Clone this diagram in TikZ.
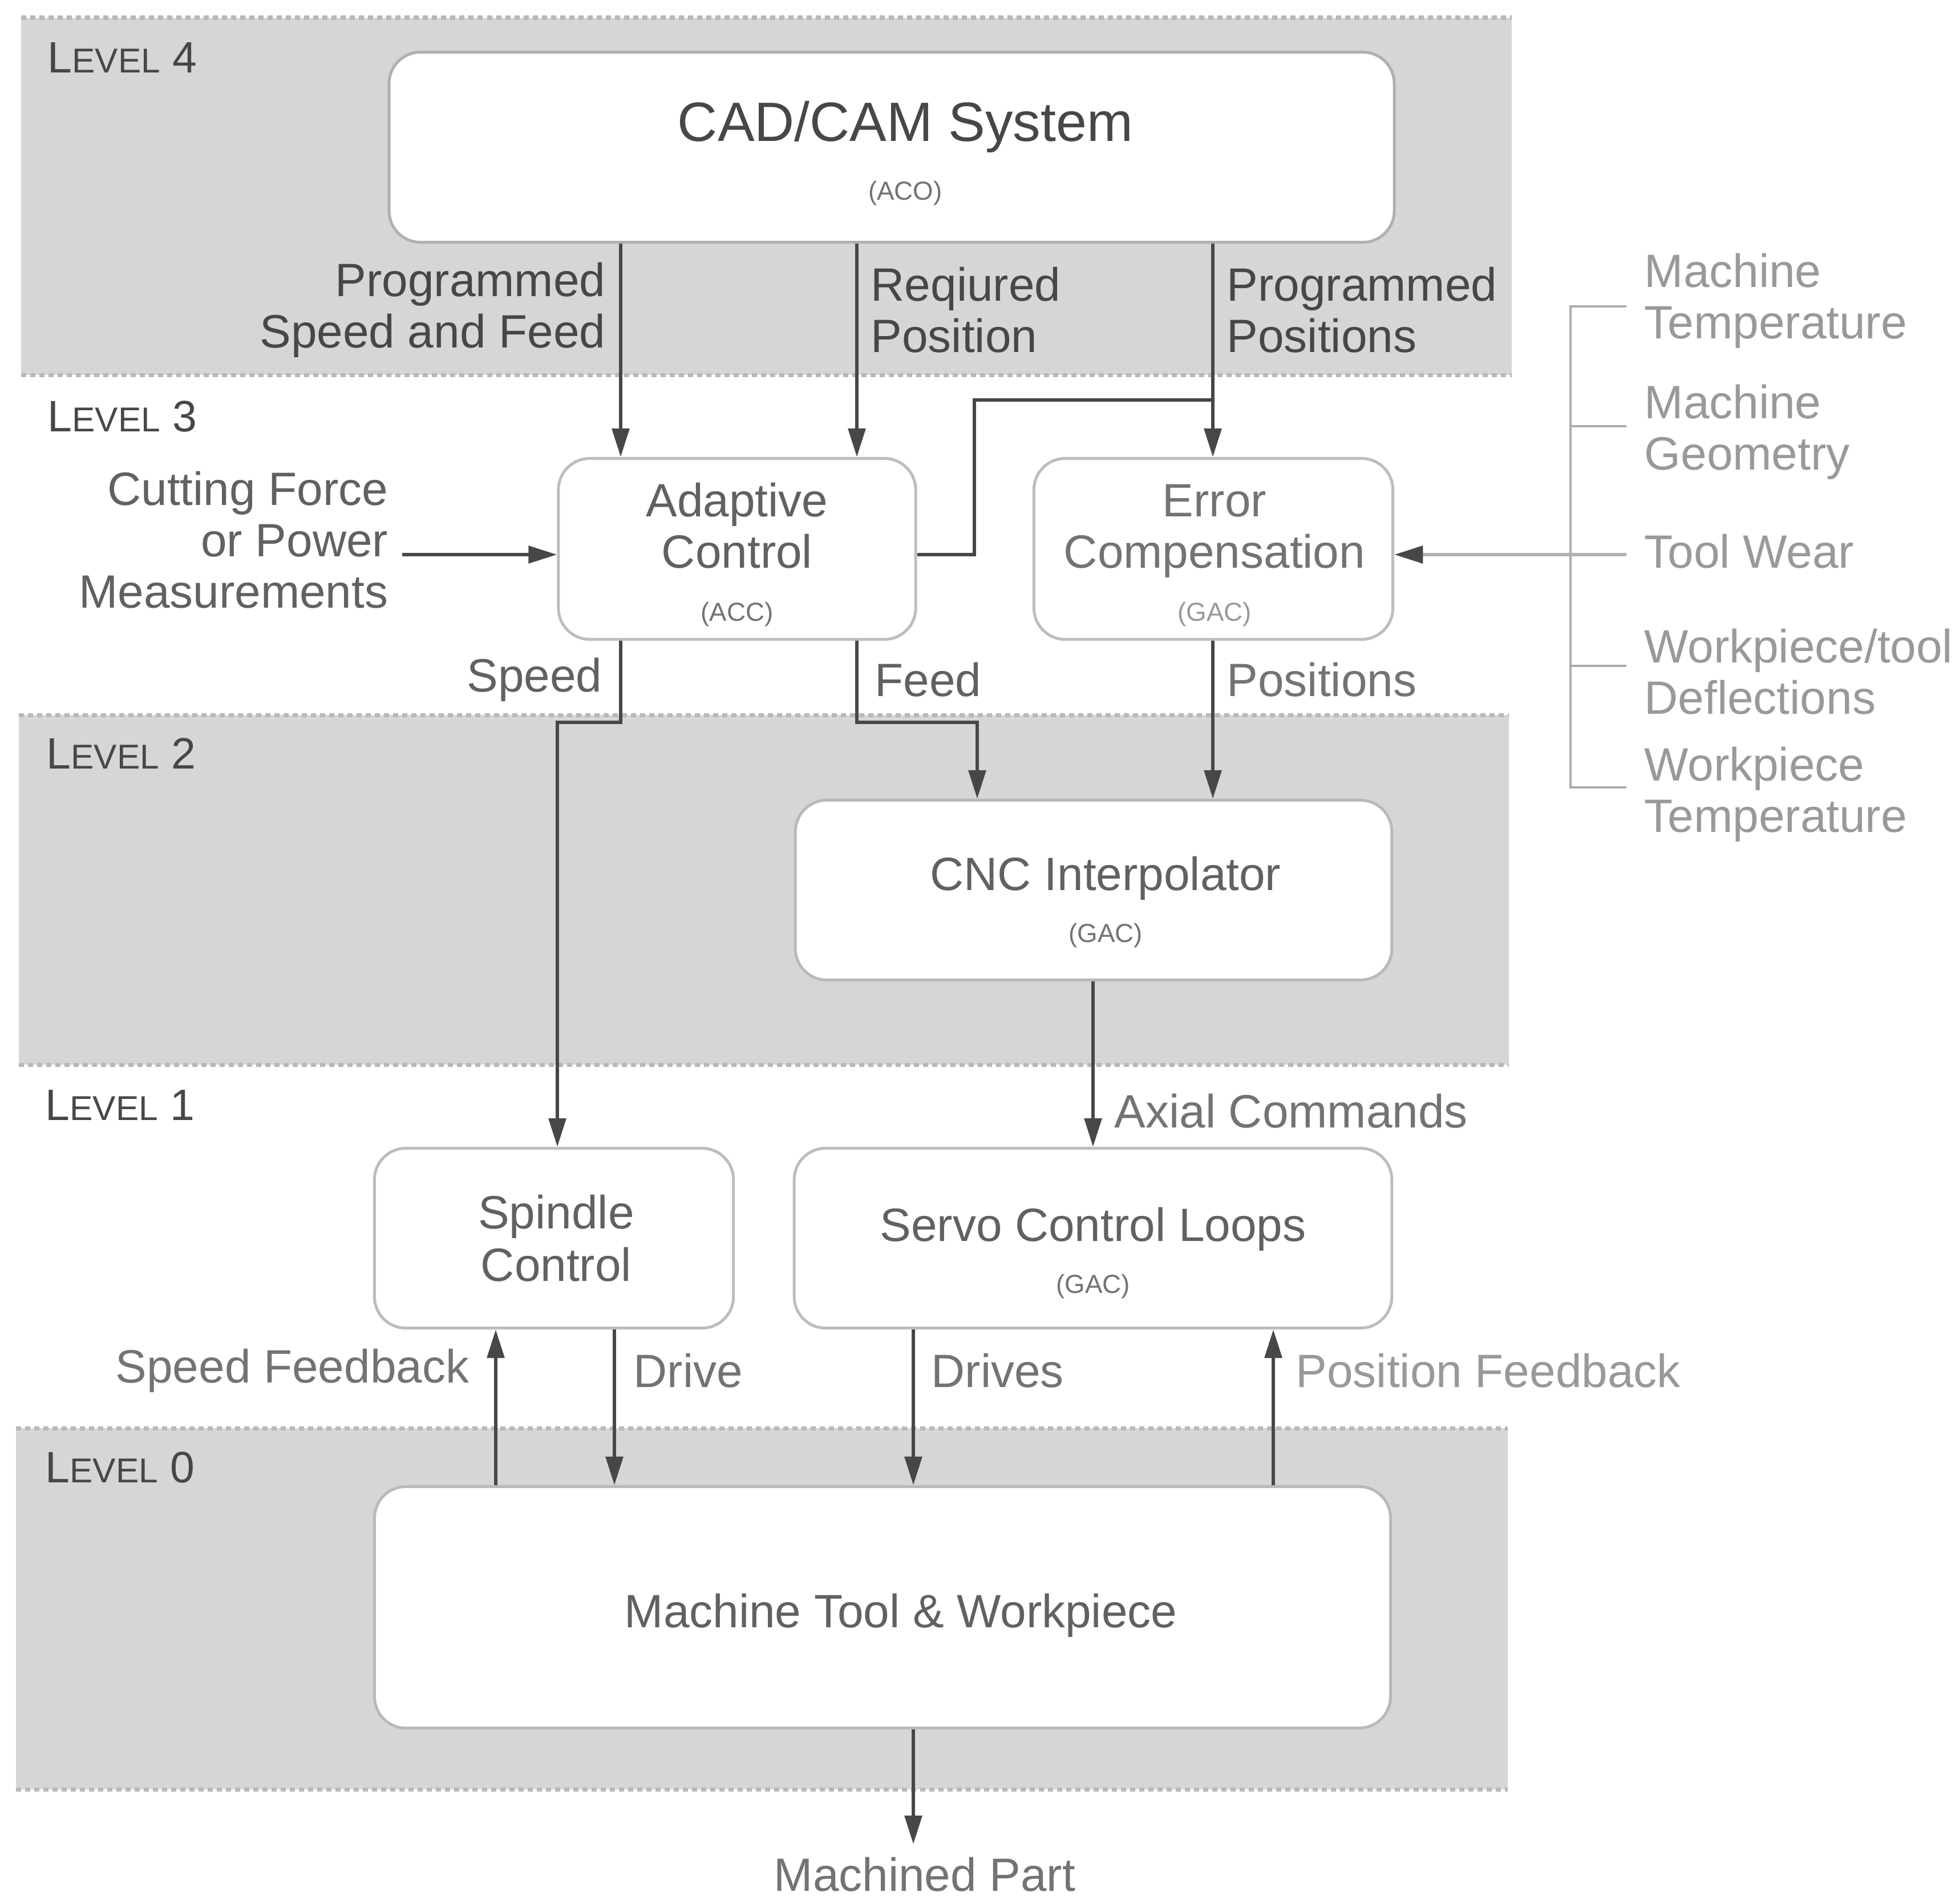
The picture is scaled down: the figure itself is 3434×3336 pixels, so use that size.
\documentclass[tikz,border=0pt]{standalone}
\usepackage{fontspec}
\setmainfont{Liberation Sans}
\usetikzlibrary{arrows.meta}

\definecolor{band}{gray}{0.84}
\definecolor{bandedge}{gray}{0.72}
\definecolor{ink}{gray}{0.28}
\definecolor{txt}{gray}{0.28}
\definecolor{txtsoft}{gray}{0.38}
\definecolor{txtlight}{gray}{0.45}
\definecolor{txtpale}{gray}{0.60}
\definecolor{boxline}{gray}{0.74}

% "LEVEL n" in small caps
\newcommand\lvlname[1]{L{\fontsize{17.2}{20}\selectfont EVEL} #1}
\newcommand\tagfont{\fontsize{13}{15}\selectfont}

\begin{document}
\begin{tikzpicture}[x=0.01cm,y=-0.01cm,
  font=\fontsize{23.3}{25.6}\selectfont,
  bandfill/.style={fill=band},
  bandrim/.style={draw=bandedge, line width=0.07cm, dash pattern=on 0.09cm off 0.07cm},
  blk/.style={draw=boxline, line width=0.05cm, fill=white, rounded corners=0.55cm, inner sep=0pt},
  lbl/.style={inner sep=0pt, text=txt},
  lvl/.style={inner sep=0pt, text=txt, anchor=base west, font=\fontsize{21.9}{25}\selectfont},
  pale/.style={inner sep=0pt, text=txtpale, anchor=west, align=left},
  ln/.style={draw=ink, line width=0.06cm},
  arr/.style={draw=ink, line width=0.06cm, -{Triangle[length=0.5cm,width=0.3cm]}},
  brk/.style={draw=gray!65, line width=0.045cm}
]
\fill[white] (0,0) rectangle (3434,3336);
\useasboundingbox (0,0) rectangle (3434,3336);

% ---- level bands ----
\fill[bandfill] (37,31) rectangle (2650,657);
\draw[bandrim] (37,31) -- (2650,31) (37,657) -- (2650,657);
\fill[bandfill] (33,1253) rectangle (2645,1866);
\draw[bandrim] (33,1253) -- (2645,1253) (33,1866) -- (2645,1866);
\fill[bandfill] (28,2503) rectangle (2643,3136);
\draw[bandrim] (28,2503) -- (2643,2503) (28,3136) -- (2643,3136);

% ---- level names ----
\node[lvl] (lv4) at (83,127)  {\lvlname{4}};
\node[lvl] (lv3) at (83,756)  {\lvlname{3}};
\node[lvl] (lv2) at (81,1347) {\lvlname{2}};
\node[lvl] (lv1) at (79,1963) {\lvlname{1}};
\node[lvl] (lv0) at (79,2598) {\lvlname{0}};

% ---- blocks ----
\node[blk, draw=gray!62, minimum width=17.61cm, minimum height=3.33cm] (cad) at (1563,258) {};
\node[lbl, anchor=base, font=\fontsize{27.6}{30}\selectfont] (cadA) at (1587,247) {CAD/CAM System};
\node[lbl, anchor=base, text=txtlight, font=\tagfont] (cadB) at (1587,350) {(ACO)};

\node[blk, minimum width=6.26cm, minimum height=3.17cm] (adc) at (1292,962) {};
\node[lbl, anchor=base, text=txtsoft] (adcA) at (1292,905) {Adaptive};
\node[lbl, anchor=base, text=txtsoft] (adcB) at (1292,995) {Control};
\node[lbl, anchor=base, text=txtlight, font=\tagfont] (adcC) at (1292,1088) {(ACC)};

\node[blk, minimum width=6.29cm, minimum height=3.17cm] (err) at (2127,962) {};
\node[lbl, anchor=base, text=txtlight] (errA) at (2129,905) {Error};
\node[lbl, anchor=base, text=txtlight] (errB) at (2129,995) {Compensation};
\node[lbl, anchor=base, text=txtpale, font=\tagfont] (errC) at (2129,1088) {(GAC)};

\node[blk, draw=gray!55, minimum width=10.45cm, minimum height=3.15cm] (cnc) at (1917,1560) {};
\node[lbl, anchor=base, text=txtsoft] (cncA) at (1938,1560) {CNC Interpolator};
\node[lbl, anchor=base, text=txtlight, font=\tagfont] (cncB) at (1938,1651) {(GAC)};

\node[blk, minimum width=6.29cm, minimum height=3.15cm] (spc) at (971,2170) {};
\node[lbl, anchor=base, text=txtsoft] (spcA) at (975,2153) {Spindle};
\node[lbl, anchor=base, text=txtsoft] (spcB) at (975,2245) {Control};

\node[blk, minimum width=10.47cm, minimum height=3.15cm] (srv) at (1916,2170) {};
\node[lbl, anchor=base, text=txtsoft] (srvA) at (1916,2175) {Servo Control Loops};
\node[lbl, anchor=base, text=txtlight, font=\tagfont] (srvB) at (1916,2266) {(GAC)};

\node[blk, draw=gray!55, minimum width=17.80cm, minimum height=4.23cm] (mtw) at (1547,2817) {};
\node[lbl, anchor=base, text=txtsoft] (mtwA) at (1579,2852) {Machine Tool \& Workpiece};

% ---- connector columns and bends ----
\coordinate (xA) at (1088,0);
\coordinate (xB) at (1502,0);
\coordinate (xC) at (2126,0);
\coordinate (sBend) at (977,1266);
\coordinate (fBend) at (1713,1266);
\coordinate (jA) at (1708,972);
\coordinate (pp) at (2126,701);
\coordinate (cutEnd) at (705,972);
\coordinate (xSF) at (869,0);
\coordinate (xDr) at (1077,0);
\coordinate (xDs) at (1601,0);
\coordinate (xPF) at (2232,0);
\coordinate (partEnd) at (1601,3232);

% level 4 -> level 3
\draw[arr] (cad.south -| xA) -- (adc.north -| xA);
\draw[arr] (cad.south -| xB) -- (adc.north -| xB);
\draw[arr] (cad.south -| xC) -- (err.north -| xC);
\draw[ln] (adc.east |- jA) -- (jA) -- (jA |- pp) -- (pp);
\draw[arr] (cutEnd) -- (adc.west |- cutEnd);

% level 3 -> level 2 / level 1
\draw[arr] (adc.south -| xA) -- (xA |- sBend) -- (sBend) -- (spc.north -| sBend);
\draw[arr] (adc.south -| xB) -- (xB |- fBend) -- (fBend) -- (cnc.north -| fBend);
\draw[arr] (err.south -| xC) -- (cnc.north -| xC);
\draw[arr] (cnc.south -| srv.north) -- (srv.north);

% level 1 <-> level 0
\draw[arr] (mtw.north -| xSF) -- (spc.south -| xSF);
\draw[arr] (spc.south -| xDr) -- (mtw.north -| xDr);
\draw[arr] (srv.south -| xDs) -- (mtw.north -| xDs);
\draw[arr] (mtw.north -| xPF) -- (srv.south -| xPF);
\draw[arr] (mtw.south -| partEnd) -- (partEnd);

% ---- connector labels ----
\node[lbl, anchor=east, align=right] (lPSF) at (1062,543) {Programmed\\Speed and Feed};
\node[lbl, anchor=west, align=left] (lRP) at (1526,543) {Reqiured\\Position};
\node[lbl, anchor=west, align=left] (lPP) at (2150,543) {Programmed\\Positions};
\node[lbl, anchor=east, align=right, text=txtsoft] (lCut) at (681,946) {Cutting Force\\or Power\\Measurements};
\node[lbl, anchor=east, text=txtsoft] (lSp) at (1056,1191) {Speed};
\node[lbl, anchor=west, text=txtsoft] (lFd) at (1533,1191) {Feed};
\node[lbl, anchor=west, text=txtlight] (lPos) at (2150,1191) {Positions};
\node[lbl, anchor=west, text=txtlight] (lAx) at (1953,1947) {Axial Commands};
\node[lbl, anchor=east, text=txtlight] (lSF) at (823,2402) {Speed Feedback};
\node[lbl, anchor=west, text=txtlight] (lDr) at (1110,2402) {Drive};
\node[lbl, anchor=west, text=txtlight] (lDs) at (1632,2402) {Drives};
\node[lbl, anchor=west, text=txtpale] (lPF) at (2271,2402) {Position Feedback};
\node[lbl, anchor=center, text=txtlight] (lPart) at (1621,3285) {Machined Part};

% ---- error sources ----
\node[pale] (eMT) at (2882,527)  {Machine\\Temperature};
\node[pale] (eMG) at (2882,757)  {Machine\\Geometry};
\node[pale] (eTW) at (2882,966)  {Tool Wear};
\node[pale] (eWD) at (2882,1177) {Workpiece/tool\\Deflections};
\node[pale] (eWT) at (2882,1392) {Workpiece\\Temperature};

\coordinate (bTop) at (2753,537);
\coordinate (bBot) at (2753,1380);
\coordinate (tMT) at (2851,537);
\coordinate (tMG) at (2851,747);
\coordinate (tTW) at (2851,972);
\coordinate (tWD) at (2851,1167);
\coordinate (tWT) at (2851,1380);
\draw[brk] (tMT) -- (bTop) -- (bBot) -- (tWT);
\draw[brk] (tMG) -- (tMG -| bTop);
\draw[brk] (tWD) -- (tWD -| bTop);
\draw[draw=gray!60, line width=0.06cm, -{Triangle[length=0.5cm,width=0.3cm,color=ink]}] (tTW) -- (err.east |- tTW);
\end{tikzpicture}
\end{document}
